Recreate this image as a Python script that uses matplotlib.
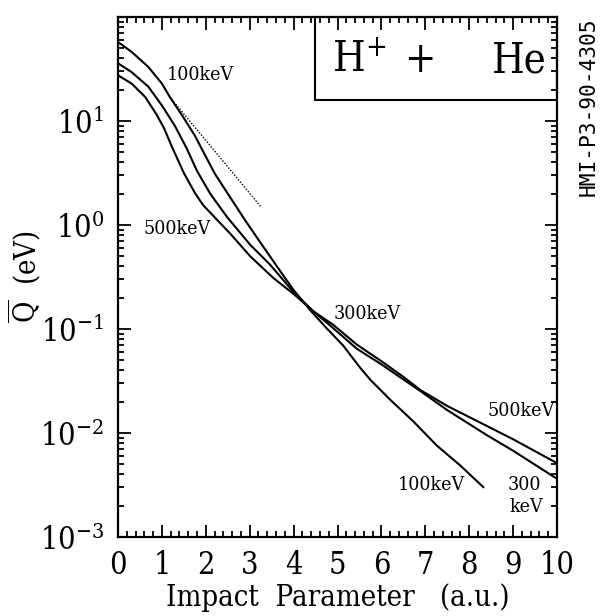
import matplotlib
matplotlib.use("Agg")
import matplotlib.pyplot as plt
from matplotlib.patches import Rectangle
from matplotlib.ticker import MultipleLocator, LogLocator, FixedLocator, NullFormatter

plt.rcParams['font.family'] = ['DejaVu Serif']
plt.rcParams['font.stretch'] = 'condensed'
plt.rcParams['mathtext.fontset'] = 'custom'
plt.rcParams['mathtext.rm'] = 'DejaVu Serif'
plt.rcParams['mathtext.it'] = 'DejaVu Serif:italic'

# mean energy transfer vs impact parameter, H+ on He
b_100 = [0, 0.31, 0.69, 1.0, 1.18, 1.45, 1.75, 1.91, 2.21, 2.55, 2.89, 3.31,
         3.69, 3.99, 4.37, 4.75, 5.13, 5.51, 5.75, 6.2, 6.73, 7.26, 7.79, 8.32]
q_100 = [57.5, 46.2, 33.1, 22.9, 17.0, 11.5, 7.24, 5.37, 3.09, 1.86, 1.12,
         0.617, 0.363, 0.240, 0.153, 0.102, 0.0692, 0.0427, 0.0324, 0.0209,
         0.0129, 0.00759, 0.00490, 0.00302]

b_300 = [0, 0.31, 0.69, 1.0, 1.3, 1.56, 1.8, 2.1, 2.48, 3.01, 3.46, 3.99,
         4.45, 4.9, 5.44, 6.0, 6.9, 7.5, 8.4, 9.0, 10]
q_300 = [35.9, 29.5, 21.4, 14.1, 8.91, 5.50, 3.31, 2.00, 1.20, 0.646, 0.417,
         0.229, 0.148, 0.102, 0.0646, 0.0457, 0.0251, 0.0166, 0.00955,
         0.00676, 0.00363]

b_500 = [0, 0.31, 0.62, 0.88, 1.05, 1.22, 1.5, 1.75, 1.94, 2.32, 2.55, 3.01,
         3.54, 3.99, 4.45, 4.9, 5.44, 6.0, 6.5, 6.9, 7.5, 8.4, 9.0, 10]
q_500 = [27.5, 22.9, 17.0, 11.5, 8.51, 5.75, 3.16, 2.04, 1.55, 1.05, 0.832,
         0.501, 0.309, 0.219, 0.148, 0.110, 0.0708, 0.0490, 0.0347, 0.0257,
         0.0182, 0.0117, 0.00871, 0.00513]

# small-b extrapolation of the 100 keV curve
b_dot = [1.18, 3.27]
q_dot = [17.0, 1.47]

y_major = [1e-3, 1e-2, 1e-1, 1e0, 1e1]

fig = plt.figure(figsize=(6.04, 6.16), dpi=100)
ax = fig.add_axes([0.1954, 0.1282, 0.7268, 0.8442])

for b, q in [(b_100, q_100), (b_300, q_300), (b_500, q_500)]:
    ax.semilogy(b, q, color='black', lw=1.5)
ax.semilogy(b_dot, q_dot, color='black', lw=1.0, linestyle=(0, (1, 1.2)))

ax.set_xlim(0, 10)
ax.set_ylim(1e-3, 1e2)
ax.xaxis.set_major_locator(MultipleLocator(1))
ax.xaxis.set_minor_locator(MultipleLocator(0.2))
ax.yaxis.set_major_locator(FixedLocator(y_major))
ax.yaxis.set_minor_locator(LogLocator(base=10, subs=range(2, 10), numticks=10))
ax.yaxis.set_minor_formatter(NullFormatter())
ax.tick_params(which='both', direction='in', top=True, right=True, width=1.3)
ax.tick_params(which='major', length=9, labelsize=22)
ax.tick_params(which='minor', length=4)
ax.tick_params(axis='x', which='major', pad=9)
ax.tick_params(axis='y', which='major', pad=10)
for s in ax.spines.values():
    s.set_linewidth(1.6)

ax.set_xlabel('Impact  Parameter   (a.u.)', fontsize=21, labelpad=2)
ax.set_ylabel(r'$\overline{\mathrm{Q}}$  (eV)', fontsize=21)
ax.yaxis.set_label_coords(-0.17, 0.5)

# energy labels
lab = dict(fontsize=14, va='center')
ax.text(1.12, 27.8, '100keV', **lab)
ax.text(0.57, 0.906, '500keV', **lab)
ax.text(4.90, 0.138, '300keV', **lab)
ax.text(8.41, 0.0163, '500keV', **lab)
ax.text(6.38, 0.00315, '100keV', **lab)
ax.text(9.25, 0.00318, '300', ha='center', **lab)
ax.text(9.3, 0.00193, 'keV', ha='center', **lab)

# collision system box
ax.add_patch(Rectangle((0.449, 0.840), 0.551, 0.160, transform=ax.transAxes,
                       fill=False, lw=1.5, clip_on=False))
ax.text(0.488, 0.917, r'H$^{+}$', transform=ax.transAxes, fontsize=30,
        va='center')
ax.text(0.690, 0.917, '+', transform=ax.transAxes, fontsize=30,
        va='center', ha='center')
ax.text(0.852, 0.917, 'He', transform=ax.transAxes, fontsize=30, va='center')

fig.text(0.975, 0.972, 'HMI-P3-90-4305', rotation=90, ha='center', va='top',
         fontsize=15.3, family='DejaVu Sans Mono', stretch='normal')

fig.savefig('out.png', dpi=100)
